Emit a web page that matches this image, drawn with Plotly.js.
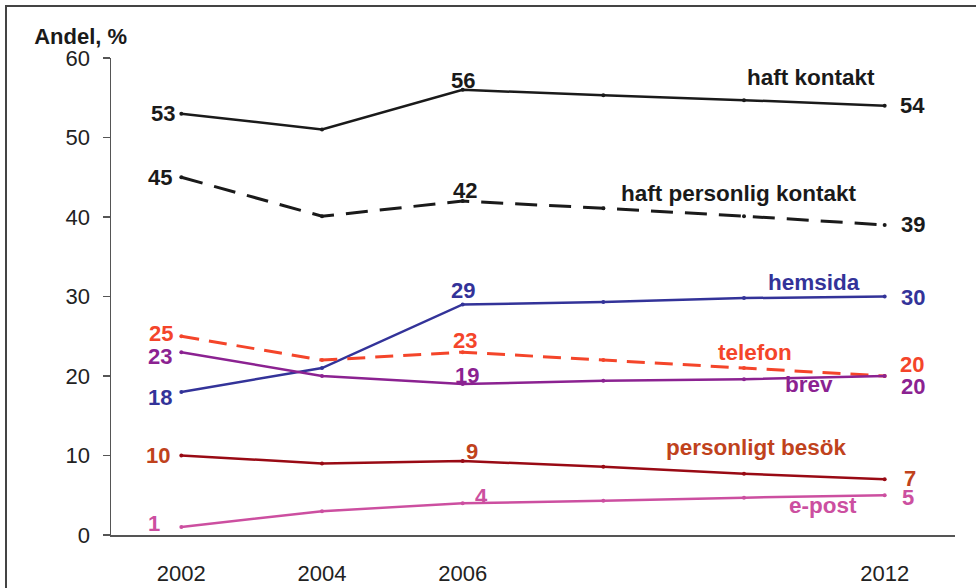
<!DOCTYPE html>
<html>
<head>
<meta charset="utf-8">
<script src="https://cdn.plot.ly/plotly-3.0.1.min.js"></script>
<style>
  html, body { margin: 0; padding: 0; background: #fff; }
  #wrap { position: relative; width: 976px; height: 588px; }
  #chart { position: absolute; left: 0; top: 0; width: 976px; height: 588px; }
  #frame { position: absolute; left: 5px; top: 5px; right: -10px; bottom: -10px;
           border-left: 2px solid #444; border-top: 2px solid #444; pointer-events: none; }
</style>
</head>
<body>
<div id="wrap"><div id="chart"></div><div id="frame"></div></div>
<script>
const years = [2002, 2004, 2006, 2008, 2010, 2012];
const tickYears = [2002, 2004, 2006, 2012];

const haftKontakt = [53, 51, 56, 55.3, 54.7, 54];
const haftPersonlig = [45, 40.1, 42, 41.1, 40.1, 39];
const hemsida = [18, 21, 29, 29.3, 29.8, 30];
const telefon = [25, 22, 23, 22, 21, 20];
const brev = [23, 20, 19, 19.4, 19.6, 20];
const besok = [10, 9, 9.3, 8.6, 7.7, 7];
const epost = [1, 3, 4, 4.3, 4.7, 5];

const names = ["haft kontakt", "haft personlig kontakt", "hemsida", "telefon", "brev", "personligt besök", "e-post"];

const FONT = "Liberation Sans, Arial, sans-serif";

const series = [
  { name: names[0], y: haftKontakt, color: "#1a1a1a", label: "#1a1a1a", dash: "solid", width: 2.5,
    nameAt: [2010.95, 57.6],
    valLabels: [ {i:0, lab: 53, xa:"right", xs:-4, ys:0}, {i:2, lab: 56, xa:"center", xs:0, ys:9}, {i:5, lab: 54, xa:"left", xs:13, ys:0} ] },
  { name: names[1], y: haftPersonlig, color: "#1a1a1a", label: "#1a1a1a", dash: "22px,12px", width: 3,
    nameAt: [2009.93, 42.9],
    valLabels: [ {i:0, lab: 45, xa:"right", xs:-7, ys:0}, {i:2, lab: 42, xa:"center", xs:2, ys:11}, {i:5, lab: 39, xa:"left", xs:14, ys:0} ] },
  { name: names[2], y: hemsida, color: "#333399", label: "#333399", dash: "solid", width: 2.5,
    nameAt: [2011.0, 31.8],
    valLabels: [ {i:0, lab: 18, xa:"right", xs:-7, ys:-6}, {i:2, lab: 29, xa:"center", xs:0, ys:14}, {i:5, lab: 30, xa:"left", xs:14, ys:-1} ] },
  { name: names[3], y: telefon, color: "#f4452a", label: "#f4452a", dash: "18px,10px", width: 3,
    nameAt: [2010.15, 23.0],
    valLabels: [ {i:0, lab: 25, xa:"right", xs:-6, ys:3}, {i:2, lab: 23, xa:"center", xs:2, ys:12}, {i:5, lab: 20, xa:"left", xs:13, ys:12} ] },
  { name: names[4], y: brev, color: "#8b2291", label: "#8b2291", dash: "solid", width: 2.5,
    nameAt: [2010.92, 18.9],
    valLabels: [ {i:0, lab: 23, xa:"right", xs:-7, ys:-4}, {i:2, lab: 19, xa:"center", xs:4, ys:8}, {i:5, lab: 20, xa:"left", xs:14, ys:-10} ] },
  { name: names[5], y: besok, color: "#990a14", label: "#c0421c", dash: "solid", width: 2.5,
    nameAt: [2010.18, 11.0],
    valLabels: [ {i:0, lab: 10, xa:"right", xs:-9, ys:0}, {i:2, lab: 9, xa:"center", xs:9, ys:10}, {i:5, lab: 7, xa:"left", xs:17, ys:1} ] },
  { name: names[6], y: epost, color: "#cc4fa0", label: "#cc4fa0", dash: "solid", width: 2.5,
    nameAt: [2011.12, 3.7],
    valLabels: [ {i:0, lab: 1, xa:"right", xs:-19, ys:4}, {i:2, lab: 4, xa:"center", xs:19, ys:7}, {i:5, lab: 5, xa:"left", xs:15, ys:-2} ] }
];

const traces = series.map(s => ({
  x: years, y: s.y, type: "scatter", mode: "lines+markers", name: s.name,
  line: { color: s.color, width: s.width, dash: s.dash },
  marker: { color: s.color, size: 4 },
  hoverinfo: "skip"
}));

const annotations = [];
series.forEach(s => {
  s.valLabels.forEach(v => {
    annotations.push({
      x: years[v.i], y: s.y[v.i], xref: "x", yref: "y",
      text: String(v.lab), showarrow: false,
      xanchor: v.xa, yanchor: "middle", xshift: v.xs, yshift: v.ys,
      font: { family: FONT, size: 22, color: s.label, weight: "bold" }
    });
  });
  annotations.push({
    x: s.nameAt[0], y: s.nameAt[1], xref: "x", yref: "y",
    text: s.name, showarrow: false, xanchor: "center", yanchor: "middle",
    font: { family: FONT, size: 22.5, color: s.label, weight: "bold" }
  });
});

const layout = {
  width: 976, height: 588,
  margin: { l: 111, r: 21, t: 58, b: 53 },
  paper_bgcolor: "#fff", plot_bgcolor: "#fff",
  showlegend: false,
  font: { family: FONT, color: "#222" },
  title: { text: "Andel, %", x: 0.035, xanchor: "left", y: 0.938, yanchor: "middle",
           font: { family: FONT, size: 22, color: "#1a1a1a", weight: "bold" } },
  xaxis: {
    range: [2001, 2013], tickvals: tickYears, ticktext: tickYears.map(String),
    showgrid: false, zeroline: false, showline: true, linecolor: "#555", linewidth: 1.5,
    ticks: "outside", ticklen: 0, tickcolor: "rgba(0,0,0,0)", ticklabelstandoff: 18,
    tickfont: { family: FONT, size: 22, color: "#222" }
  },
  yaxis: {
    range: [0, 60], tickvals: [0, 10, 20, 30, 40, 50, 60],
    showgrid: false, zeroline: false, showline: true, linecolor: "#555", linewidth: 1.5,
    ticks: "outside", ticklen: 7, tickcolor: "#555", tickwidth: 1.5, ticklabelstandoff: 8,
    tickfont: { family: FONT, size: 22, color: "#222" }
  },
  annotations: annotations
};

Plotly.newPlot("chart", traces, layout, { staticPlot: true, displayModeBar: false });
</script>
</body>
</html>
